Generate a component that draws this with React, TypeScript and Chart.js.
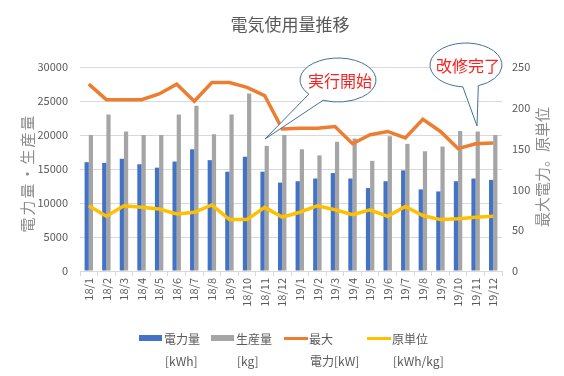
import React, { useEffect, useRef } from "react";
import { Chart, registerables } from "chart.js";

Chart.register(...registerables);

const categories = [
  "18/1", "18/2", "18/3", "18/4", "18/5", "18/6", "18/7", "18/8", "18/9", "18/10", "18/11", "18/12",
  "19/1", "19/2", "19/3", "19/4", "19/5", "19/6", "19/7", "19/8", "19/9", "19/10", "19/11", "19/12",
];
const power = [16000, 15900, 16500, 15700, 15200, 16100, 17900, 16300, 14600, 16800, 14600, 13000,
  13200, 13600, 14400, 13600, 12200, 13200, 14800, 12000, 11700, 13200, 13600, 13400];
const production = [20000, 23000, 20500, 20000, 20000, 23000, 24300, 20100, 23000, 26100, 18400, 20000,
  17900, 17000, 19000, 19500, 16200, 19800, 18700, 17600, 18300, 20600, 20500, 20000];
const maxPower = [229, 210, 210, 210, 217, 229, 208, 231, 231, 225, 215, 174,
  175, 175, 177, 156, 167, 171, 163, 186, 171, 150, 156, 157];
const unitRate = [80, 67, 80, 78, 76, 70, 72, 81, 63, 63, 78, 66,
  72, 80, 75, 69, 75, 67, 79, 68, 63, 64, 66, 67];

const leftTicks = { min: 0, max: 30000, step: 5000 };
const rightTicks = { min: 0, max: 250, step: 50 };

const titleText = "電気使用量推移";
const leftTitle = "電力量・生産量";
const rightTitle = "最大電力。原単位";
const legendItems = [
  { line1: "電力量", line2: "[kWh]", color: "#4472c4", kind: "box" },
  { line1: "生産量", line2: "[kg]", color: "#a5a5a5", kind: "box" },
  { line1: "最大", line2: "電力[kW]", color: "#ed7d31", kind: "line" },
  { line1: "原単位", line2: "[kWh/kg]", color: "#ffc000", kind: "line" },
];
const callouts = [
  { text: "実行開始", cx: 338, cy: 80, rx: 38, ry: 22, a1: 113, a2: 140, tx: 265, ty: 139 },
  { text: "改修完了", cx: 466, cy: 65, rx: 36, ry: 22, a1: 70, a2: 95, tx: 477, ty: 126 },
];

const FONT = "'Noto Sans CJK JP', 'Noto Sans', sans-serif";
const TEXT = "#595959";

const decorPlugin = {
  id: "decor",
  afterDraw(chart: any) {
    const ctx = chart.ctx as CanvasRenderingContext2D;
    ctx.save();
    // Title
    ctx.fillStyle = TEXT;
    ctx.font = `17px ${FONT}`;
    ctx.textAlign = "center";
    ctx.textBaseline = "middle";
    ctx.fillText(titleText, 290, 25);

    // Axis titles
    ctx.fillStyle = "#8c8c8c";
    ctx.font = `15px ${FONT}`;
    ctx.save();
    ctx.translate(27, 173);
    ctx.rotate(-Math.PI / 2);
    (ctx as any).letterSpacing = "2px";
    ctx.fillText(leftTitle, 0, 0);
    ctx.restore();
    ctx.save();
    ctx.translate(542, 167);
    ctx.rotate(-Math.PI / 2);
    (ctx as any).letterSpacing = "0px";
    ctx.fillText(rightTitle, 0, 0);
    ctx.restore();

    // Legend
    const xs = [139, 211, 284, 367];
    legendItems.forEach((it, i) => {
      const x = xs[i];
      if (it.kind === "box") {
        ctx.fillStyle = it.color;
        ctx.fillRect(x, 335, 23, 6);
      } else {
        ctx.strokeStyle = it.color;
        ctx.lineWidth = 3;
        ctx.beginPath();
        ctx.moveTo(x, 338.5);
        ctx.lineTo(x + 24, 338.5);
        ctx.stroke();
      }
      ctx.fillStyle = TEXT;
      ctx.font = `12px ${FONT}`;
      ctx.textAlign = "left";
      ctx.textBaseline = "middle";
      ctx.fillText(it.line1, x + 25, 339);
      ctx.fillText(it.line2, x + 26, 361);
    });

    // Callouts
    callouts.forEach((c) => {
      const s = (c.a2 * Math.PI) / 180;
      const e = ((c.a1 + 360) * Math.PI) / 180;
      ctx.beginPath();
      ctx.ellipse(c.cx, c.cy, c.rx, c.ry, 0, s, e, false);
      ctx.lineTo(c.tx, c.ty);
      ctx.closePath();
      ctx.fillStyle = "#ffffff";
      ctx.fill();
      ctx.strokeStyle = "#41719c";
      ctx.lineWidth = 1;
      ctx.stroke();
      ctx.fillStyle = "#ff1f1f";
      ctx.font = `16px ${FONT}`;
      ctx.textAlign = "center";
      ctx.textBaseline = "middle";
      ctx.fillText(c.text, c.cx + 2, c.cy + 1);
    });
    ctx.restore();
  },
};

export default function App() {
  const ref = useRef<HTMLCanvasElement | null>(null);
  useEffect(() => {
    if (!ref.current) return;
    const tickFont = { size: 11, family: FONT };
    const plain = (v: any) => String(v);
    const chart = new Chart(ref.current, {
      type: "bar",
      data: {
        labels: categories,
        datasets: [
          {
            type: "line",
            label: "最大電力[kW]",
            data: maxPower,
            yAxisID: "y2",
            borderColor: "#ed7d31",
            backgroundColor: "#ed7d31",
            borderWidth: 3.5,
            pointRadius: 0,
            tension: 0,
            order: 0,
          },
          {
            type: "line",
            label: "原単位[kWh/kg]",
            data: unitRate,
            yAxisID: "y2",
            borderColor: "#ffc000",
            backgroundColor: "#ffc000",
            borderWidth: 3.5,
            pointRadius: 0,
            tension: 0,
            order: 0,
          },
          {
            type: "bar",
            label: "電力量[kWh]",
            data: power,
            yAxisID: "y",
            backgroundColor: "#4472c4",
            categoryPercentage: 0.48,
            barPercentage: 1,
            order: 1,
          },
          {
            type: "bar",
            label: "生産量[kg]",
            data: production,
            yAxisID: "y",
            backgroundColor: "#a5a5a5",
            categoryPercentage: 0.48,
            barPercentage: 1,
            order: 1,
          },
        ] as any,
      },
      options: {
        responsive: false,
        animation: false,
        layout: { padding: { top: 67, left: 0, right: 0, bottom: 0 } },
        plugins: { legend: { display: false }, tooltip: { enabled: false }, title: { display: false } },
        scales: {
          x: {
            offset: true,
            grid: { drawOnChartArea: false, drawTicks: true, tickLength: 5, color: "#d9d9d9" },
            border: { color: "#d9d9d9" },
            ticks: { maxRotation: 90, minRotation: 90, autoSkip: false, padding: 2, color: TEXT, font: tickFont },
            afterFit: (s: any) => { s.height = 105; },
          },
          y: {
            position: "left",
            min: leftTicks.min,
            max: leftTicks.max,
            ticks: { stepSize: leftTicks.step, padding: 12, color: TEXT, font: tickFont, callback: plain },
            grid: { color: "#d9d9d9", drawTicks: false },
            border: { display: false },
            afterFit: (s: any) => { s.width = 80; },
          },
          y2: {
            position: "right",
            min: rightTicks.min,
            max: rightTicks.max,
            ticks: { stepSize: rightTicks.step, padding: 10, color: TEXT, font: tickFont, callback: plain },
            grid: { display: false, drawTicks: false },
            border: { display: false },
            afterFit: (s: any) => { s.width = 62; },
          },
        },
      } as any,
      plugins: [decorPlugin],
    });
    return () => chart.destroy();
  }, []);
  return (
    <div style={{ position: "absolute", left: 0, top: 0, width: 564, height: 376, background: "#ffffff" }}>
      <canvas ref={ref} width={564} height={376} style={{ display: "block", width: 564, height: 376 }} />
    </div>
  );
}
